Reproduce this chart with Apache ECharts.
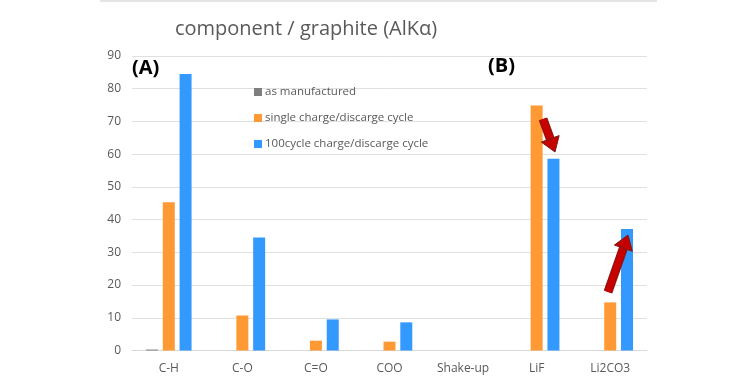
<!DOCTYPE html>
<html>
<head>
<meta charset="utf-8">
<script src="https://cdn.jsdelivr.net/npm/echarts@6/dist/echarts.min.js"></script>
<style>html,body{margin:0;padding:0;background:#fff;}#c{width:754px;height:386px;}</style>
</head>
<body>
<div id="c"></div>
<script>
const categories = ['C-H', 'C-O', 'C=O', 'COO', 'Shake-up', 'LiF', 'Li2CO3'];
const seriesNames = ['as manufactured', 'single charge/discarge cycle', '100cycle charge/discarge cycle'];
const asManufactured = [0.3, null, null, null, null, null, null];
const singleCycle = [45.3, 10.7, 3.0, 2.7, null, 74.9, 14.7];
const hundredCycle = [84.5, 34.5, 9.5, 8.6, null, 58.6, 37.1];
const yTicks = { min: 0, max: 90, interval: 10 };

const chart = echarts.init(document.getElementById('c'));
const textColor = '#595959';
const font = 'Open Sans';

function arrowParts(x1, y1, x2, y2) {
  const dx = x2 - x1, dy = y2 - y1;
  const L = Math.hypot(dx, dy);
  const ux = dx / L, uy = dy / L;
  const px = -uy, py = ux;
  const headW = 9.5, headL = 14;
  const bx = x2 - ux * headL, by = y2 - uy * headL;
  return [
    { type: 'line', z: 100, shape: { x1: x1, y1: y1, x2: bx + ux, y2: by + uy },
      style: { stroke: '#9a0f0f', lineWidth: 9, lineCap: 'butt' } },
    { type: 'line', z: 101, shape: { x1: x1, y1: y1, x2: bx + ux, y2: by + uy },
      style: { stroke: '#c80000', lineWidth: 6, lineCap: 'butt' } },
    { type: 'polygon', z: 102, shape: { points: [
        [bx + px * headW, by + py * headW], [x2, y2], [bx - px * headW, by - py * headW]
      ] }, style: { fill: '#c40000', stroke: '#7a1a1a', lineWidth: 1 } }
  ];
}

chart.setOption({
  animation: false,
  backgroundColor: '#ffffff',
  title: {
    text: 'component / graphite (AlKα)',
    left: 301, top: 14, textAlign: 'center',
    textStyle: { fontFamily: font, fontSize: 20, fontWeight: 'normal', color: textColor }
  },
  legend: {
    orient: 'vertical', left: 249, top: 81, itemGap: 14,
    itemWidth: 8, itemHeight: 8, icon: 'rect',
    textStyle: { fontFamily: font, fontSize: 11.5, color: textColor, padding: [0, 0, 0, -2] },
    data: seriesNames
  },
  grid: { left: 132, right: 107, top: 56, bottom: 35.5, containLabel: false },
  xAxis: {
    type: 'category', data: categories,
    axisLine: { show: true, lineStyle: { color: '#d9d9d9' } },
    axisTick: { show: false },
    axisLabel: { fontFamily: font, fontSize: 12, color: textColor, margin: 12 }
  },
  yAxis: {
    type: 'value', min: yTicks.min, max: yTicks.max, interval: yTicks.interval,
    axisLine: { show: false }, axisTick: { show: false },
    splitLine: { lineStyle: { color: '#e0e0e0' } },
    axisLabel: { fontFamily: font, fontSize: 12, color: textColor, margin: 11 }
  },
  series: [
    { name: seriesNames[0], type: 'bar', data: asManufactured, barWidth: 12, barGap: '40%', itemStyle: { color: '#7f7f7f' } },
    { name: seriesNames[1], type: 'bar', data: singleCycle, barWidth: 12, barGap: '40%', itemStyle: { color: '#ff9933' } },
    { name: seriesNames[2], type: 'bar', data: hundredCycle, barWidth: 12, barGap: '40%', itemStyle: { color: '#3399ff' } }
  ],
  graphic: [
    { type: 'rect', shape: { x: 100, y: 0, width: 557, height: 2 }, style: { fill: '#e4e4e4' }, silent: true },
    { type: 'text', left: 132, top: 58, style: { text: '(A)', fontFamily: font, fontSize: 20, fontWeight: 'bold', fill: '#000' } },
    { type: 'text', left: 488, top: 56, style: { text: '(B)', fontFamily: font, fontSize: 20, fontWeight: 'bold', fill: '#000' } }
  ].concat(arrowParts(543, 119, 555, 152), arrowParts(608, 292, 628, 235))
});
</script>
</body>
</html>
